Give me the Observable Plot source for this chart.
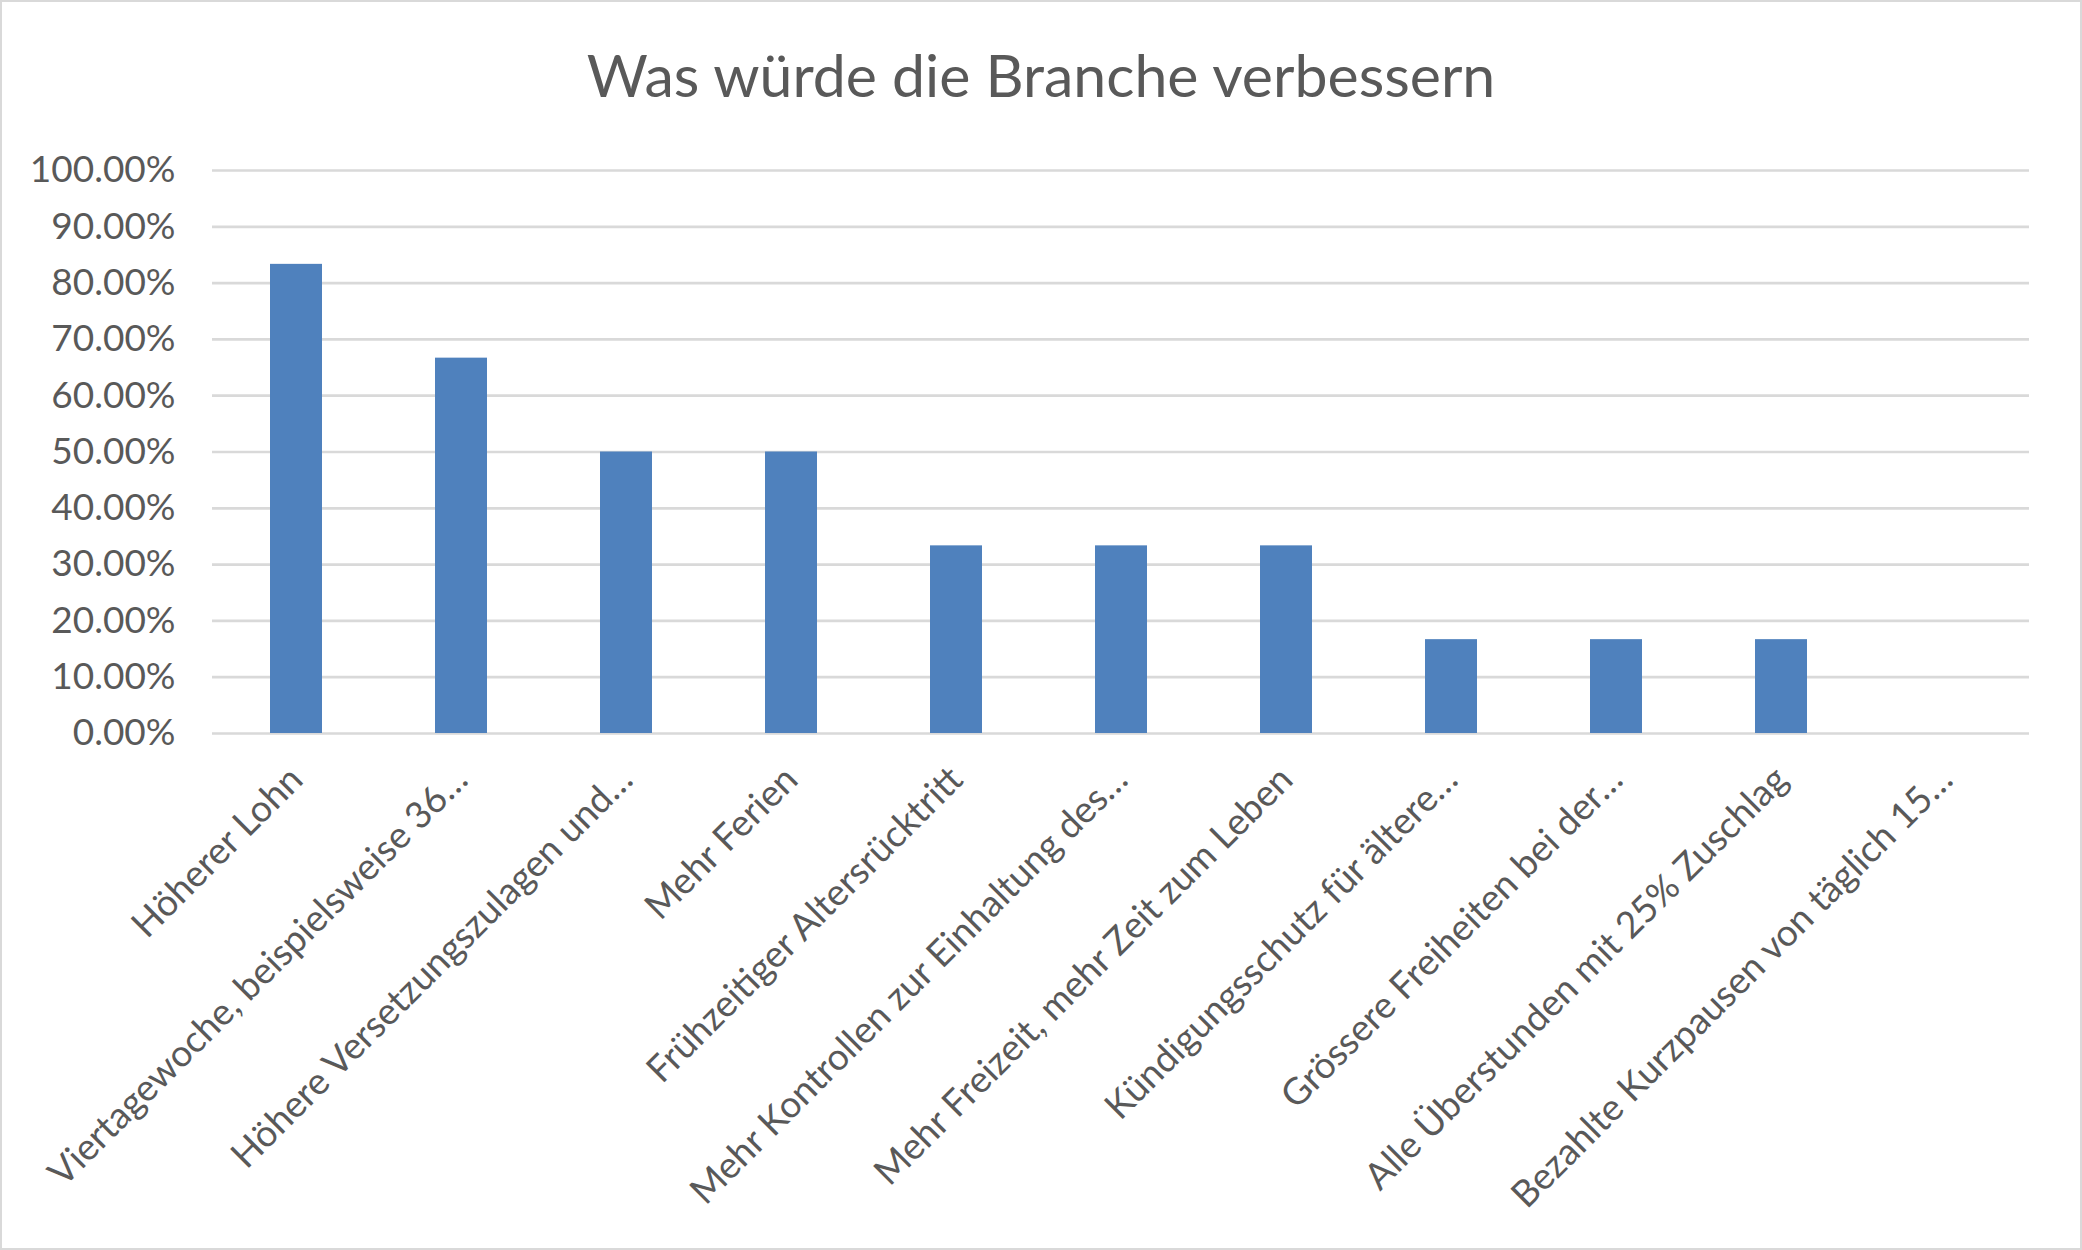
<!DOCTYPE html>
<html><head><meta charset="utf-8">
<script src="https://cdn.jsdelivr.net/npm/d3@7"></script>
<script src="https://cdn.jsdelivr.net/npm/@observablehq/plot@0.6"></script>
<style>
html,body{margin:0;padding:0;background:#fff;}
#frame{position:relative;width:2078px;height:1246px;border:2px solid #d9d9d9;overflow:hidden;background:#fff;}
#title{height:130px;box-sizing:border-box;padding-top:43px;text-align:center;font:59px/1 Lato,sans-serif;color:#595959;white-space:nowrap;}
</style></head><body>
<div id="frame"><div id="title">Was würde die Branche verbessern</div><div id="chart"></div></div>
<script>
const categories = [
  "Höherer Lohn",
  "Viertagewoche, beispielsweise 36…",
  "Höhere Versetzungszulagen und…",
  "Mehr Ferien",
  "Frühzeitiger Altersrücktritt",
  "Mehr Kontrollen zur Einhaltung des…",
  "Mehr Freizeit, mehr Zeit zum Leben",
  "Kündigungsschutz für ältere…",
  "Grössere Freiheiten bei der…",
  "Alle Überstunden mit 25% Zuschlag",
  "Bezahlte Kurzpausen von täglich 15…"
];
const values = [0.8333, 0.6667, 0.5, 0.5, 0.3333, 0.3333, 0.3333, 0.1667, 0.1667, 0.1667, 0];
const yTicks = [0, 0.1, 0.2, 0.3, 0.4, 0.5, 0.6, 0.7, 0.8, 0.9, 1.0];

const data = categories.map((c, i) => ({category: c, value: values[i]}));

const chart = Plot.plot({
  width: 2078,
  height: 1110,
  marginTop: 38,
  marginBottom: 509,
  marginLeft: 210,
  marginRight: 51,
  style: {fontFamily: "Lato, sans-serif", fontSize: "37px", color: "#595959", background: "#fff", overflow: "visible"},
  x: {domain: categories, paddingInner: 0.685, paddingOuter: 0.3425, label: null},
  y: {domain: [0, 1], label: null},
  marks: [
    Plot.gridY(yTicks, {stroke: "#d9d9d9", strokeOpacity: 1, strokeWidth: 2.7}),
    Plot.barY(data, {x: "category", y: "value", fill: "#4f81bd"}),
    Plot.axisY(yTicks, {tickSize: 0, tickPadding: 37, tickFormat: d3.format(".2%"), fill: "#595959", fontSize: 37, label: null}),
    Plot.axisX({tickSize: 0, tickRotate: -45, tickPadding: 40, fill: "#595959", fontSize: 37, label: null})
  ]
});
document.getElementById("chart").appendChild(chart);
</script>
</body></html>
